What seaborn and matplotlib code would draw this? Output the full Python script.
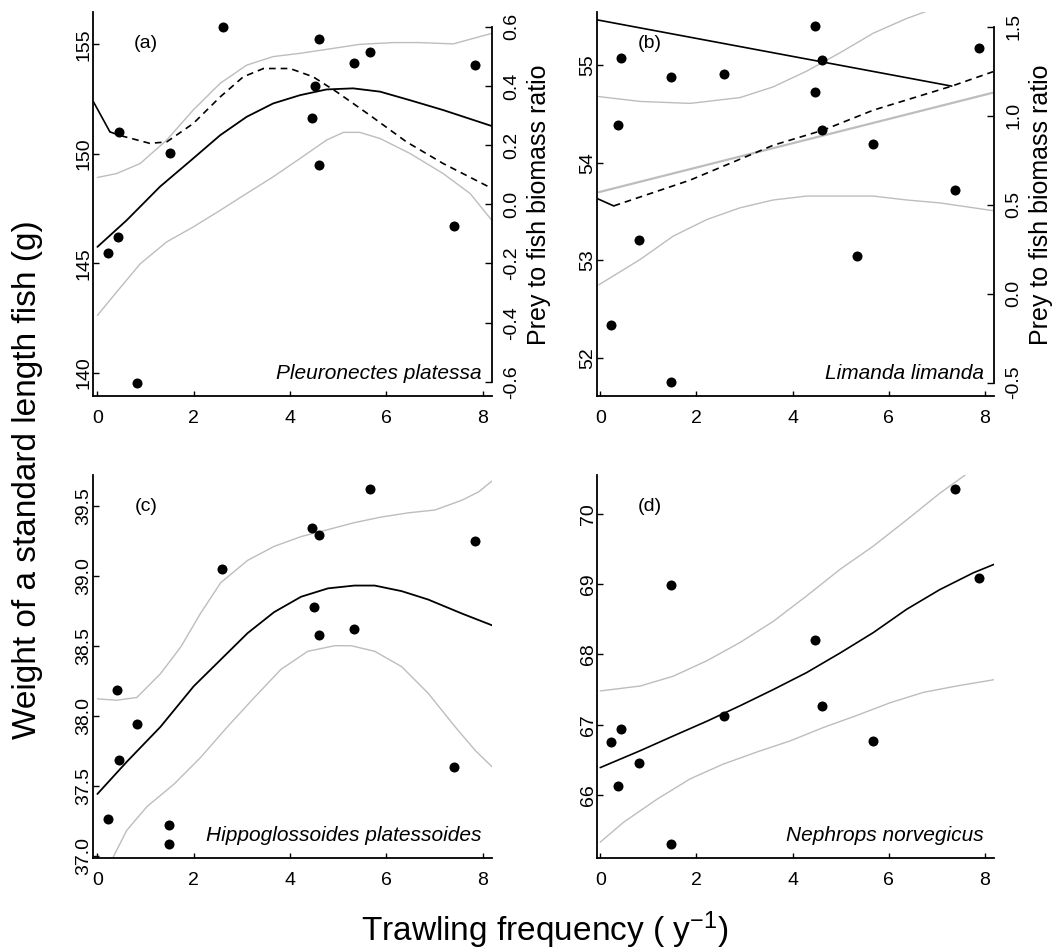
import matplotlib
matplotlib.use("Agg")
import matplotlib.pyplot as plt
import seaborn as sns

sns.set_style("ticks")
plt.rcParams["font.family"] = ["Liberation Sans", "DejaVu Sans"]
plt.rcParams["mathtext.fontset"] = "custom"
plt.rcParams["mathtext.rm"] = "Liberation Sans"
plt.rcParams["mathtext.default"] = "regular"
plt.rcParams["axes.unicode_minus"] = False
for key in ["text.color", "axes.labelcolor", "axes.edgecolor", "xtick.color", "ytick.color"]:
    plt.rcParams[key] = "black"

GREY = "#bdbdbd"
DASH = (0, (4, 3))

# ---- (a) Pleuronectes platessa ----
a_x = [0.23, 0.42, 0.44, 0.82, 1.50, 2.60, 4.46, 4.51, 4.61, 4.61, 5.32, 5.67, 7.41, 7.84]
a_y = [145.49, 146.2, 151.0, 139.54, 150.02, 155.81, 151.62, 153.11, 155.23, 149.5, 154.16, 154.63, 146.71, 154.05]
a_fit_x = [0, 0.61, 1.30, 1.99, 2.55, 3.10, 3.65, 4.21, 4.76, 5.31, 5.87, 6.49, 7.18, 8.19]
a_fit_y = [145.75, 146.97, 148.5, 149.79, 150.85, 151.69, 152.30, 152.68, 152.94, 152.99, 152.84, 152.45, 152.0, 151.27]
a_hi_x = [0, 0.40, 0.89, 1.44, 1.99, 2.55, 3.10, 3.65, 4.21, 4.76, 5.45, 6.15, 6.70, 7.39, 7.74, 8.19]
a_hi_y = [148.92, 149.10, 149.56, 150.63, 152.0, 153.22, 154.05, 154.44, 154.59, 154.77, 155.0, 155.08, 155.08, 155.02, 155.23, 155.5]
a_lo_x = [0, 0.40, 0.89, 1.44, 1.99, 2.55, 3.10, 3.65, 4.21, 4.76, 5.11, 5.45, 5.87, 6.49, 7.18, 7.74, 8.19]
a_lo_y = [142.62, 143.69, 144.98, 145.98, 146.66, 147.42, 148.19, 148.95, 149.79, 150.63, 150.98, 150.98, 150.70, 150.02, 149.1, 148.19, 146.97]
a_prey_x = [0.26, 0.44, 1.09, 1.44, 1.99, 2.55, 3.03, 3.45, 4.0, 4.48, 4.97, 5.66, 6.42, 7.18, 8.19]
a_prey_y = [0.245, 0.234, 0.206, 0.211, 0.273, 0.363, 0.431, 0.459, 0.459, 0.431, 0.380, 0.301, 0.211, 0.138, 0.054]
a_seg_x = [-0.08, 0.26]
a_seg_y = [0.346, 0.245]

# ---- (b) Limanda limanda ----
b_x = [0.23, 0.36, 0.44, 0.81, 1.47, 1.47, 2.58, 4.47, 4.47, 4.62, 4.62, 5.33, 5.67, 7.38, 7.87]
b_y = [52.34, 54.39, 55.08, 53.21, 54.88, 51.75, 54.91, 55.40, 54.73, 55.06, 54.34, 53.05, 54.19, 53.72, 55.18]
b_fit_x = [-0.03, 8.17]
b_fit_y = [53.70, 54.72]
b_hi_x = [-0.03, 0.83, 1.87, 2.91, 3.60, 4.29, 4.99, 5.68, 6.37, 6.93]
b_hi_y = [54.68, 54.63, 54.61, 54.67, 54.78, 54.94, 55.13, 55.33, 55.48, 55.58]
b_lo_x = [-0.03, 0.83, 1.52, 2.22, 2.91, 3.60, 4.29, 4.99, 5.68, 6.37, 7.06, 7.76, 8.17]
b_lo_y = [52.75, 53.01, 53.25, 53.42, 53.54, 53.62, 53.66, 53.66, 53.66, 53.62, 53.59, 53.54, 53.51]
b_prey_x = [0.28, 1.87, 3.60, 4.64, 5.68, 7.31, 8.17]
b_prey_y = [0.493, 0.638, 0.834, 0.919, 1.031, 1.166, 1.247]
b_seg_x = [-0.06, 0.28]
b_seg_y = [0.534, 0.493]
b_long_x = [-0.06, 7.31]
b_long_y = [1.538, 1.166]

# ---- (c) Hippoglossoides platessoides ----
c_x = [0.23, 0.40, 0.44, 0.82, 1.49, 1.49, 2.59, 4.46, 4.50, 4.61, 4.61, 5.32, 5.67, 7.41, 7.84]
c_y = [37.26, 38.18, 37.68, 37.94, 37.22, 37.08, 39.05, 39.34, 38.78, 39.29, 38.58, 38.62, 39.62, 37.63, 39.25]
c_fit_x = [0, 0.61, 1.31, 2.0, 2.56, 3.12, 3.67, 4.23, 4.79, 5.34, 5.76, 6.32, 6.87, 7.57, 8.24]
c_fit_y = [37.44, 37.67, 37.92, 38.21, 38.40, 38.59, 38.74, 38.85, 38.91, 38.93, 38.93, 38.89, 38.83, 38.73, 38.64]
c_hi_x = [0, 0.40, 0.82, 1.31, 1.73, 2.14, 2.56, 3.12, 3.67, 4.23, 4.79, 5.34, 5.90, 6.46, 7.01, 7.57, 7.92, 8.24]
c_hi_y = [38.12, 38.11, 38.13, 38.30, 38.49, 38.73, 38.95, 39.11, 39.21, 39.28, 39.33, 39.38, 39.42, 39.45, 39.47, 39.54, 39.60, 39.69]
c_lo_x = [0.33, 0.61, 1.03, 1.59, 2.14, 2.70, 3.26, 3.81, 4.37, 4.93, 5.27, 5.76, 6.32, 6.87, 7.43, 7.85, 8.24]
c_lo_y = [36.99, 37.18, 37.35, 37.51, 37.70, 37.92, 38.13, 38.33, 38.46, 38.50, 38.50, 38.46, 38.35, 38.16, 37.92, 37.75, 37.62]

# ---- (d) Nephrops norvegicus ----
d_x = [0.23, 0.36, 0.44, 0.81, 1.47, 1.47, 2.58, 4.47, 4.62, 5.67, 7.38, 7.87]
d_y = [66.75, 66.13, 66.94, 66.46, 68.98, 65.31, 67.13, 68.20, 67.26, 66.77, 70.35, 69.09]
d_fit_x = [0, 0.83, 1.52, 2.22, 2.91, 3.60, 4.29, 4.99, 5.68, 6.37, 7.06, 7.76, 8.19]
d_fit_y = [66.39, 66.63, 66.84, 67.05, 67.27, 67.50, 67.74, 68.02, 68.31, 68.64, 68.92, 69.16, 69.28]
d_hi_x = [0, 0.83, 1.52, 2.22, 2.91, 3.60, 4.29, 4.99, 5.68, 6.37, 7.06, 7.65]
d_hi_y = [67.48, 67.55, 67.69, 67.91, 68.17, 68.47, 68.83, 69.21, 69.54, 69.91, 70.29, 70.58]
d_lo_x = [0, 0.48, 1.18, 1.87, 2.56, 3.25, 3.95, 4.64, 5.33, 6.02, 6.72, 7.41, 8.19]
d_lo_y = [65.33, 65.61, 65.94, 66.23, 66.44, 66.61, 66.77, 66.96, 67.13, 67.31, 67.46, 67.55, 67.64]

x_ticks = [0, 2, 4, 6, 8]


def line(ax, x, y, color="black", lw=1.2, ls="-"):
    sns.lineplot(x=x, y=y, ax=ax, color=color, lw=lw, linestyle=ls,
                 estimator=None, sort=False)


def base_axes(fig, rect, xlim, ylim, yticks, yfmt):
    ax = fig.add_axes(rect)
    ax.set_xlim(*xlim)
    ax.set_ylim(*ylim)
    ax.set_xticks(x_ticks)
    ax.set_xticklabels([str(t) for t in x_ticks])
    ax.set_yticks(yticks)
    ax.set_yticklabels([yfmt.format(t) for t in yticks])
    for s in ["top", "right"]:
        ax.spines[s].set_visible(False)
    for s in ["left", "bottom"]:
        ax.spines[s].set_linewidth(1.3)
    ax.tick_params(axis="x", direction="in", length=3.5, width=1, pad=10, labelsize=14)
    ax.tick_params(axis="y", direction="in", length=4.5, width=1, pad=0.5, labelsize=14,
                   labelrotation=90)
    for lab in ax.get_yticklabels():
        lab.set_va("center")
    ax.set_xlabel("")
    ax.set_ylabel("")
    return ax


def right_axes(ax, ylim, yticks, yfmt):
    ax2 = ax.twinx()
    ax2.set_ylim(*ylim)
    ax2.set_yticks(yticks)
    ax2.set_yticklabels([yfmt.format(t) for t in yticks])
    for s in ["top", "left", "bottom"]:
        ax2.spines[s].set_visible(False)
    ax2.spines["right"].set_linewidth(1.3)
    ax2.spines["right"].set_bounds(yticks[0], yticks[-1])
    ax2.tick_params(axis="y", direction="in", length=5, width=1, pad=8, labelsize=14,
                    labelrotation=90)
    for lab in ax2.get_yticklabels():
        lab.set_va("center")
    ax2.set_ylabel("Prey to fish biomass ratio", fontsize=18)
    ax2.yaxis.set_label_coords(1.118, 0.497)
    ax2.yaxis.label.set_va("center")
    ax2.yaxis.label.set_ha("center")
    return ax2


def dots(ax, x, y):
    sns.scatterplot(x=x, y=y, ax=ax, color="black", s=52, linewidth=0, zorder=5)
    ax.set_xlabel("")
    ax.set_ylabel("")


def tags(ax, letter, species):
    ax.text(0.133, 0.918, letter, transform=ax.transAxes, fontsize=14,
            ha="center", va="center")
    ax.text(0.974, 0.059, species, transform=ax.transAxes, fontsize=15,
            style="italic", ha="right", va="center")


fig = plt.figure(figsize=(10.55, 9.52), dpi=100)

left_xlim = (-0.09, 8.19)
right_xlim = (-0.06, 8.19)

# (a)
ax = base_axes(fig, [0.0882, 0.5840, 0.3779, 0.4037], left_xlim, (138.94, 156.49),
               [140, 145, 150, 155], "{:d}")
line(ax, a_hi_x, a_hi_y, GREY, 1.0)
line(ax, a_lo_x, a_lo_y, GREY, 1.0)
line(ax, a_fit_x, a_fit_y, "black", 1.3)
dots(ax, a_x, a_y)
tags(ax, "(a)", "Pleuronectes platessa")
ax2 = right_axes(ax, (-0.648, 0.651), [-0.6, -0.4, -0.2, 0.0, 0.2, 0.4, 0.6], "{:.1f}")
line(ax2, a_seg_x, a_seg_y, "black", 1.2)
line(ax2, a_prey_x, a_prey_y, "black", 1.2, DASH)
ax2.set_xlim(*left_xlim)

# (b)
ax = base_axes(fig, [0.5662, 0.5840, 0.3760, 0.4037], right_xlim, (51.61, 55.55),
               [52, 53, 54, 55], "{:d}")
line(ax, b_hi_x, b_hi_y, GREY, 1.0)
line(ax, b_lo_x, b_lo_y, GREY, 1.0)
line(ax, b_fit_x, b_fit_y, GREY, 1.6)
dots(ax, b_x, b_y)
tags(ax, "(b)", "Limanda limanda")
ax2 = right_axes(ax, (-0.575, 1.584), [-0.5, 0.0, 0.5, 1.0, 1.5], "{:.1f}")
line(ax2, b_long_x, b_long_y, "black", 1.2)
line(ax2, b_seg_x, b_seg_y, "black", 1.2)
line(ax2, b_prey_x, b_prey_y, "black", 1.2, DASH)
ax2.set_xlim(*right_xlim)

# (c)
ax = base_axes(fig, [0.0882, 0.0984, 0.3779, 0.4026], left_xlim, (36.98, 39.72),
               [37.0, 37.5, 38.0, 38.5, 39.0, 39.5], "{:.1f}")
line(ax, c_hi_x, c_hi_y, GREY, 1.0)
line(ax, c_lo_x, c_lo_y, GREY, 1.0)
line(ax, c_fit_x, c_fit_y, "black", 1.3)
dots(ax, c_x, c_y)
tags(ax, "(c)", "Hippoglossoides platessoides")

# (d)
ax = base_axes(fig, [0.5662, 0.0984, 0.3760, 0.4026], right_xlim, (65.10, 70.55),
               [66, 67, 68, 69, 70], "{:d}")
line(ax, d_hi_x, d_hi_y, GREY, 1.0)
line(ax, d_lo_x, d_lo_y, GREY, 1.0)
line(ax, d_fit_x, d_fit_y, "black", 1.2)
dots(ax, d_x, d_y)
tags(ax, "(d)", "Nephrops norvegicus")

fig.supylabel("Weight of a standard length fish (g)", x=0.0265, y=0.496,
              fontsize=24, ha="center", va="center")
fig.supxlabel("Trawling frequency ( y$^{-1}$)", x=0.5166, y=0.0231,
              fontsize=24, ha="center", va="center")

fig.savefig("out.png", dpi=100)
